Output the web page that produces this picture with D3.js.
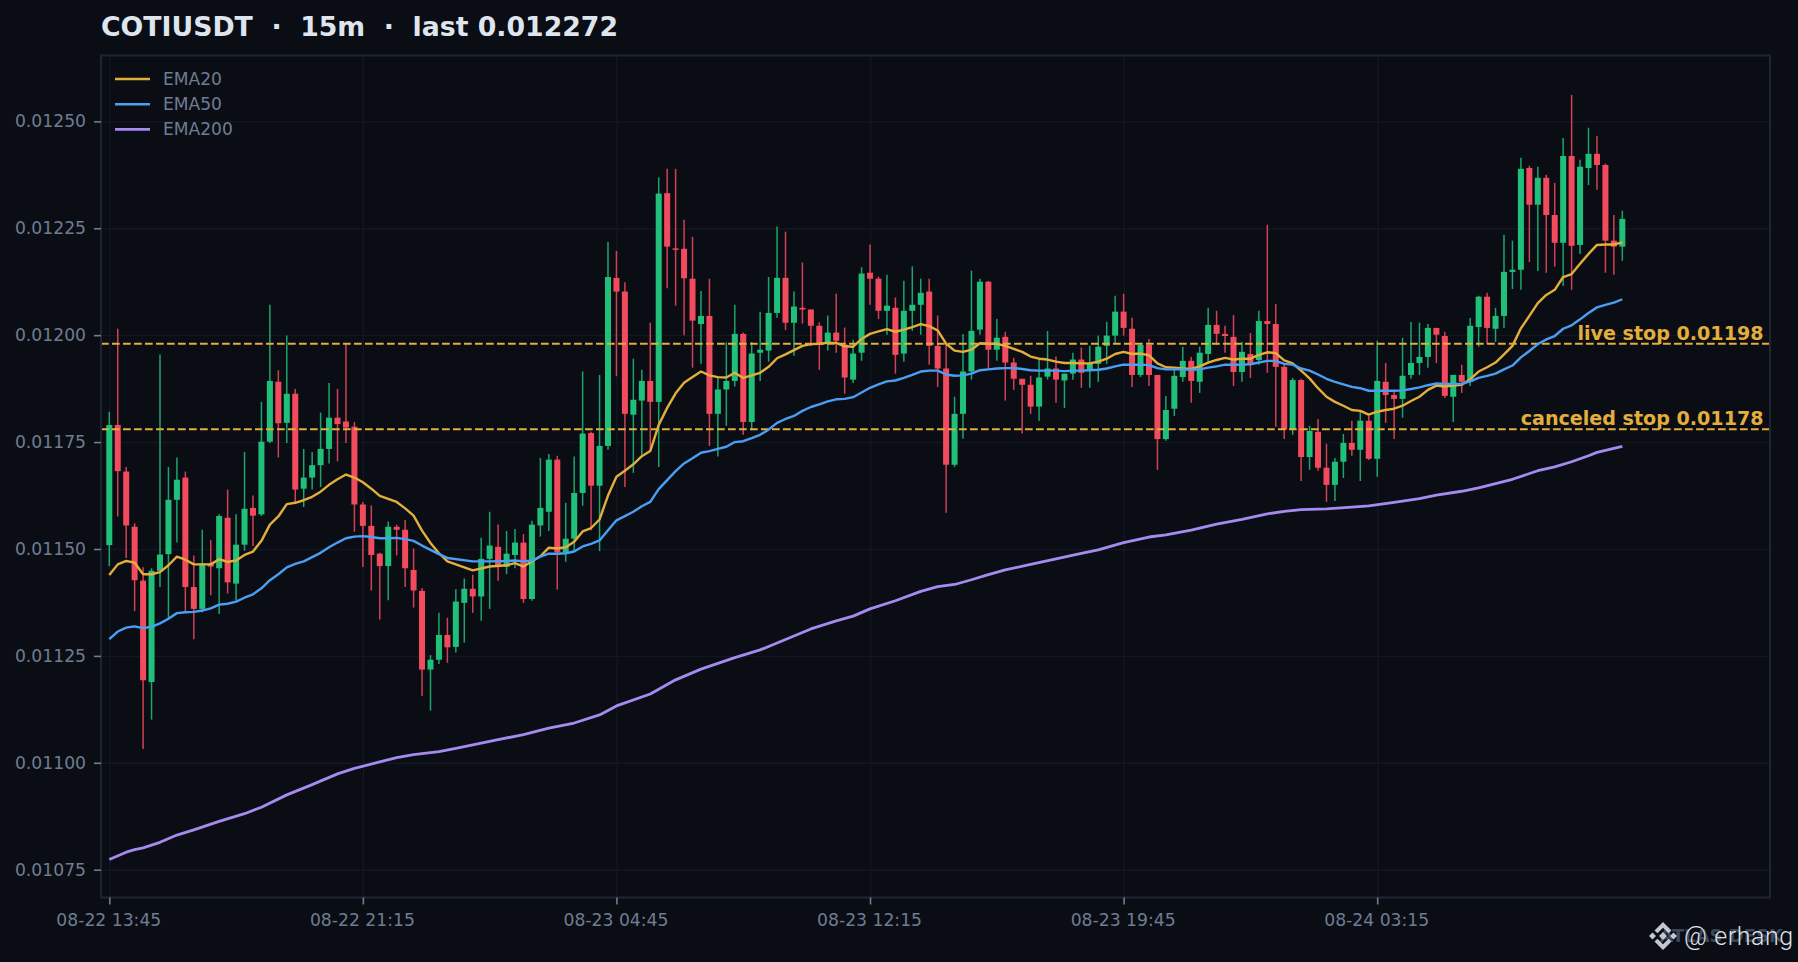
<!DOCTYPE html>
<html>
<head>
<meta charset="utf-8">
<script src="https://cdn.jsdelivr.net/npm/d3@7"></script>
<style>
html, body { margin: 0; padding: 0; background: #0a0d14; overflow: hidden; }
svg { display: block; font-family: "DejaVu Sans", sans-serif; }
</style>
</head>
<body>
<div id="chart"></div>
<script>
// candles, 15m bars
const opens = [
0.011509,0.011790,0.011681,0.011552,0.011426,0.011189,0.011449,0.011488,0.011615,0.011667,
0.011411,0.011360,0.011466,0.011455,0.011573,0.011419,0.011510,0.011596,0.011581,0.011751,
0.011891,0.011795,0.011863,0.011641,0.011667,0.011696,0.011734,0.011807,0.011798,0.011786,
0.011604,0.011554,0.011489,0.011460,0.011552,0.011545,0.011451,0.011402,0.011218,0.011241,
0.011299,0.011271,0.011374,0.011407,0.011389,0.011477,0.011505,0.011458,0.011486,0.011515,
0.011383,0.011555,0.011587,0.011709,0.011492,0.011524,0.011631,0.011771,0.011648,0.011741,
0.012134,0.012102,0.011814,0.011847,0.011893,0.011844,0.012332,0.012203,0.012202,0.012132,
0.012026,0.012045,0.011816,0.011873,0.011893,0.012003,0.011797,0.011959,0.011964,0.012052,
0.012134,0.012029,0.012064,0.012060,0.012022,0.011980,0.012006,0.011978,0.011896,0.011959,
0.012146,0.012132,0.012057,0.012064,0.011957,0.012057,0.012071,0.012102,0.011975,0.011922,
0.011697,0.011816,0.011915,0.012013,0.012125,0.011966,0.011996,0.011936,0.011898,0.011884,
0.011833,0.011903,0.011922,0.011894,0.011910,0.011943,0.011918,0.011933,0.011975,0.011999,
0.012055,0.012015,0.011907,0.011977,0.011907,0.011757,0.011828,0.011902,0.011940,0.011891,
0.011956,0.012024,0.012003,0.011996,0.011914,0.011956,0.011942,0.012033,0.012026,0.011926,
0.011779,0.011895,0.011715,0.011774,0.011690,0.011650,0.011704,0.011748,0.011732,0.011800,
0.011711,0.011891,0.011860,0.011851,0.011907,0.011935,0.011949,0.012017,0.011998,0.011856,
0.011907,0.011891,0.012019,0.012090,0.012015,0.012045,0.012148,0.012153,0.012391,0.012305,
0.012368,0.012281,0.012216,0.012419,0.012211,0.012391,0.012424,0.012398,0.012221,0.012207
];
const highs = [
0.011821,0.012015,0.011692,0.011560,0.011457,0.011455,0.011955,0.011692,0.011714,0.011681,
0.011485,0.011545,0.011521,0.011581,0.011639,0.011581,0.011727,0.011625,0.011844,0.012071,
0.011918,0.011999,0.011874,0.011734,0.011727,0.011819,0.011888,0.011874,0.011981,0.011797,
0.011610,0.011602,0.011491,0.011564,0.011557,0.011568,0.011501,0.011409,0.011252,0.011351,
0.011339,0.011406,0.011431,0.011440,0.011526,0.011587,0.011557,0.011542,0.011547,0.011535,
0.011566,0.011713,0.011722,0.011718,0.011608,0.011716,0.011915,0.011774,0.011907,0.012218,
0.012197,0.012124,0.011945,0.011919,0.012029,0.012369,0.012389,0.012389,0.012270,0.012230,
0.012103,0.012132,0.011902,0.011983,0.012071,0.012006,0.011984,0.012055,0.012136,0.012254,
0.012242,0.012102,0.012170,0.012060,0.012030,0.012046,0.012097,0.012018,0.011989,0.012159,
0.012212,0.012137,0.012141,0.012088,0.012127,0.012161,0.012132,0.012132,0.012046,0.011978,
0.011856,0.012003,0.012151,0.012132,0.012127,0.012038,0.012008,0.011947,0.011898,0.011905,
0.011944,0.012010,0.011950,0.011910,0.011959,0.011971,0.011975,0.011999,0.012031,0.012092,
0.012097,0.012041,0.011981,0.011991,0.011907,0.011858,0.011919,0.011973,0.011949,0.011973,
0.012064,0.012057,0.012022,0.012047,0.011984,0.012005,0.012057,0.012258,0.012073,0.011931,
0.011900,0.011898,0.011788,0.011804,0.011746,0.011713,0.011769,0.011800,0.011821,0.011811,
0.011987,0.011935,0.011870,0.011994,0.012031,0.012029,0.012026,0.012017,0.012008,0.011907,
0.011931,0.012040,0.012092,0.012099,0.012064,0.012235,0.012221,0.012415,0.012396,0.012394,
0.012375,0.012356,0.012461,0.012562,0.012410,0.012485,0.012466,0.012401,0.012281,0.012291
];
const lows = [
0.011460,0.011576,0.011479,0.011355,0.011032,0.011101,0.011411,0.011339,0.011515,0.011353,
0.011289,0.011352,0.011392,0.011348,0.011396,0.011380,0.011496,0.011507,0.011577,0.011748,
0.011714,0.011748,0.011609,0.011598,0.011639,0.011645,0.011700,0.011705,0.011748,0.011540,
0.011458,0.011403,0.011335,0.011380,0.011485,0.011411,0.011363,0.011156,0.011122,0.011231,
0.011234,0.011258,0.011281,0.011351,0.011332,0.011360,0.011426,0.011441,0.011455,0.011374,
0.011379,0.011529,0.011542,0.011405,0.011470,0.011495,0.011601,0.011544,0.011495,0.011732,
0.011904,0.011645,0.011678,0.011720,0.011732,0.011692,0.012110,0.012069,0.012000,0.011924,
0.011933,0.011741,0.011716,0.011788,0.011880,0.011767,0.011777,0.011893,0.011938,0.012041,
0.012012,0.011952,0.012027,0.011974,0.011919,0.011964,0.011959,0.011863,0.011888,0.011940,
0.012071,0.012038,0.012001,0.011910,0.011938,0.012010,0.012001,0.011931,0.011879,0.011585,
0.011692,0.011758,0.011896,0.012001,0.011922,0.011940,0.011847,0.011872,0.011770,0.011816,
0.011800,0.011896,0.011842,0.011830,0.011896,0.011877,0.011877,0.011891,0.011933,0.011982,
0.011999,0.011879,0.011902,0.011881,0.011685,0.011753,0.011811,0.011891,0.011842,0.011865,
0.011938,0.011977,0.011959,0.011881,0.011891,0.011900,0.011931,0.011912,0.011786,0.011757,
0.011767,0.011659,0.011685,0.011683,0.011610,0.011612,0.011666,0.011718,0.011659,0.011708,
0.011669,0.011795,0.011757,0.011807,0.011898,0.011907,0.011924,0.011935,0.011853,0.011797,
0.011865,0.011881,0.011973,0.011980,0.011984,0.012017,0.012108,0.012106,0.012171,0.012150,
0.012146,0.012160,0.012115,0.012106,0.012190,0.012351,0.012340,0.012146,0.012141,0.012174
];
const closes = [
0.011790,0.011682,0.011555,0.011427,0.011193,0.011449,0.011487,0.011615,0.011662,0.011411,
0.011360,0.011466,0.011459,0.011577,0.011422,0.011510,0.011594,0.011578,0.011751,0.011893,
0.011794,0.011863,0.011639,0.011667,0.011696,0.011734,0.011807,0.011792,0.011784,0.011604,
0.011554,0.011486,0.011460,0.011552,0.011545,0.011455,0.011403,0.011218,0.011241,0.011299,
0.011270,0.011377,0.011407,0.011389,0.011477,0.011508,0.011458,0.011489,0.011515,0.011383,
0.011557,0.011596,0.011709,0.011492,0.011524,0.011631,0.011770,0.011648,0.011741,0.012136,
0.012102,0.011816,0.011849,0.011893,0.011844,0.012331,0.012207,0.012202,0.012133,0.012034,
0.012045,0.011816,0.011873,0.011893,0.012003,0.011797,0.011957,0.011966,0.012052,0.012134,
0.012029,0.012067,0.012060,0.012022,0.011982,0.012006,0.011987,0.011901,0.011957,0.012144,
0.012132,0.012057,0.012069,0.011954,0.012057,0.012071,0.012099,0.011975,0.011922,0.011697,
0.011816,0.011915,0.012010,0.012125,0.011966,0.011994,0.011936,0.011898,0.011884,0.011833,
0.011901,0.011922,0.011896,0.011910,0.011943,0.011912,0.011933,0.011973,0.011999,0.012055,
0.012017,0.011907,0.011977,0.011907,0.011757,0.011825,0.011905,0.011940,0.011893,0.011959,
0.012024,0.012003,0.011998,0.011914,0.011961,0.011931,0.012033,0.012026,0.011926,0.011779,
0.011895,0.011715,0.011776,0.011690,0.011650,0.011704,0.011748,0.011732,0.011800,0.011711,
0.011893,0.011860,0.011851,0.011905,0.011935,0.011949,0.012017,0.012001,0.011858,0.011907,
0.011891,0.012022,0.012090,0.012017,0.012045,0.012148,0.012153,0.012389,0.012305,0.012368,
0.012281,0.012216,0.012419,0.012209,0.012394,0.012424,0.012398,0.012221,0.012207,0.012272
];

// ema lines : bar index + value, read at the visible bends
const ema20Idx = [0,1,2,3,4,5,6,7,8,9,10,11,12,13,14,15,16,17,18,19,20,21,22,23,24,25,26,27,28,29,30,31,32,33,34,35,36,37,38,39,40,
43,45,47,48,49,51,52,53,54,55,56,57,58,59,60,61,62,63,64,65,66,67,68,69,70,71,72,73,74,75,76,77,78,79,80,81,82,83,84,85,86,87,88,89,
90,91,92,93,94,95,96,97,98,99,100,101,102,103,104,105,106,107,108,109,110,111,112,113,114,115,116,117,118,119,120,121,122,123,124,125,
126,127,128,129,130,131,132,133,134,135,136,137,138,139,140,141,142,143,144,145,146,147,148,149,150,151,152,153,154,155,156,157,158,159,
160,161,162,163,164,165,166,167,168,169,170,171,172,173,174,175,176,177,178,179];
const ema20 = [0.011439,0.011464,0.011472,0.011468,0.011441,0.011441,0.011446,0.011462,0.011482,0.011475,0.011464,0.011464,0.011464,0.011476,0.011470,0.011473,0.011486,0.011494,0.011519,0.011557,0.011576,0.011605,0.011608,0.011614,0.011622,0.011634,0.011650,0.011663,0.011674,0.011667,0.011656,0.011641,0.011624,0.011617,0.011610,0.011595,0.011578,0.011543,0.011514,0.011490,0.011471,
0.011450,0.011459,0.011462,0.011467,0.011459,0.011483,0.011503,0.011501,0.011504,0.011517,0.011541,0.011549,0.011569,0.011625,0.011669,0.011683,0.011698,0.011717,0.011729,0.011790,0.011830,0.011864,0.011889,0.011902,0.011915,0.011906,0.011902,0.011901,0.011912,0.011900,0.011906,0.011912,0.011926,0.011946,0.011955,0.011965,0.011975,0.011979,0.011980,0.011982,0.011982,0.011974,0.011973,0.011991,
0.012003,0.012009,0.012014,0.012008,0.012013,0.012019,0.012026,0.012021,0.012011,0.011980,0.011964,0.011961,0.011966,0.011981,0.011980,0.011980,0.011975,0.011968,0.011961,0.011950,0.011945,0.011943,0.011938,0.011935,0.011935,0.011934,0.011934,0.011938,0.011945,0.011956,0.011961,0.011956,0.011957,0.011953,0.011934,0.011925,
0.011924,0.011922,0.011921,0.011927,0.011936,0.011942,0.011947,0.011943,0.011945,0.011945,0.011954,0.011960,0.011958,0.011941,0.011934,0.011917,0.011899,0.011876,0.011856,0.011844,0.011835,0.011825,0.011823,0.011814,0.011821,0.011825,0.011828,0.011835,0.011846,0.011856,0.011872,0.011882,0.011880,0.011882,
0.011884,0.011897,0.011915,0.011925,0.011936,0.011955,0.011975,0.012016,0.012045,0.012075,0.012094,0.012106,0.012136,0.012143,0.012167,0.012190,0.012211,0.012212,0.012212,0.012217];

const ema50Idx = [0,1,2,3,4,5,6,7,8,9,10,11,12,13,14,15,16,17,18,19,20,21,22,23,24,25,26,27,28,29,30,31,32,33,34,35,36,37,38,39,40,
43,45,47,48,49,50,51,52,53,54,55,56,57,58,59,60,61,62,63,64,65,66,67,68,69,70,71,72,73,74,75,76,77,78,79,80,81,82,83,84,85,86,87,88,89,
90,91,92,93,94,95,96,97,98,99,100,101,102,103,104,105,106,107,108,109,110,111,112,113,114,115,116,117,118,119,120,121,122,123,124,125,
126,127,128,129,130,131,132,133,134,135,136,137,138,139,140,141,142,143,144,145,146,147,148,149,150,151,152,153,154,155,156,157,158,159,
160,161,162,163,164,165,166,167,168,169,170,171,172,173,174,175,176,177,178,179];
const ema50 = [0.011289,0.011307,0.011316,0.011319,0.011315,0.011318,0.011326,0.011337,0.011350,0.011352,0.011353,0.011356,0.011361,0.011370,0.011372,0.011377,0.011386,0.011394,0.011408,0.011427,0.011441,0.011457,0.011465,0.011471,0.011481,0.011491,0.011504,0.011515,0.011525,0.011529,0.011530,0.011528,0.011525,0.011525,0.011526,0.011523,0.011519,0.011508,0.011498,0.011488,0.011479,
0.011471,0.011471,0.011472,0.011473,0.011471,0.011473,0.011482,0.011489,0.011489,0.011490,0.011494,0.011506,0.011512,0.011520,0.011544,0.011567,0.011577,0.011587,0.011600,0.011610,0.011640,0.011661,0.011682,0.011700,0.011712,0.011725,0.011729,0.011734,0.011739,0.011750,0.011752,0.011759,0.011767,0.011779,0.011795,0.011804,0.011811,0.011823,0.011832,0.011838,0.011845,0.011850,0.011851,0.011855,0.011866,
0.011877,0.011885,0.011892,0.011894,0.011900,0.011907,0.011915,0.011917,0.011917,0.011908,0.011905,0.011906,0.011910,0.011918,0.011920,0.011922,0.011923,0.011923,0.011921,0.011918,0.011917,0.011917,0.011917,0.011916,0.011917,0.011917,0.011918,0.011919,0.011922,0.011927,0.011931,0.011931,0.011931,0.011930,0.011923,0.011920,
0.011920,0.011920,0.011919,0.011920,0.011924,0.011927,0.011931,0.011931,0.011931,0.011932,0.011936,0.011940,0.011940,0.011933,0.011931,0.011922,0.011917,0.011908,0.011898,0.011891,0.011885,0.011879,0.011876,0.011870,0.011870,0.011870,0.011870,0.011871,0.011874,0.011878,0.011883,0.011887,0.011886,0.011886,
0.011886,0.011892,0.011900,0.011905,0.011910,0.011920,0.011929,0.011948,0.011963,0.011979,0.011990,0.011998,0.012015,0.012023,0.012037,0.012052,0.012065,0.012071,0.012076,0.012084];

const ema200Idx = [0,2,3,4,6,8,10,13,16,18,21,24,27,29,32,34,36,39,41,46,49,52,55,58,60,64,67,70,74,77,79,83,86,88,90,93,96,98,100,102,104,106,109,112,115,117,120,123,125,128,131,134,137,139,141,144,147,149,152,155,157,160,162,166,169,171,173,175,176,179];
const ema200 = [0.010774,0.010791,0.010797,0.010801,0.010814,0.010831,0.010843,0.010863,0.010881,0.010896,0.010925,0.010949,0.010974,0.010987,0.011002,0.011012,0.011019,0.011026,0.011034,0.011054,0.011066,0.011081,0.011093,0.011112,0.011133,0.011161,0.011194,0.011219,0.011246,0.011264,0.011280,0.011313,0.011332,0.011343,0.011360,0.011379,0.011401,0.011412,0.011417,0.011428,0.011440,0.011451,0.011464,0.011477,0.011490,0.011498,0.011515,0.011528,0.011533,0.011544,0.011558,0.011569,0.011582,0.011588,0.011592,0.011594,0.011598,0.011601,0.011609,0.011618,0.011626,0.011635,0.011643,0.011663,0.011683,0.011692,0.011704,0.011718,0.011726,0.011740];

const stopValues = [0.01198, 0.01178];
const stopLabels = ["live stop 0.01198", "canceled stop 0.01178"];

const yTicks = [0.01075, 0.01100, 0.01125, 0.01150, 0.01175, 0.01200, 0.01225, 0.01250];
const xTicks = [0, 30, 60, 90, 120, 150];
const xTickLabels = ["08-22 13:45", "08-22 21:15", "08-23 04:45", "08-23 12:15", "08-23 19:45", "08-24 03:15"];

const emaNames = ["EMA20", "EMA50", "EMA200"];
const emaColors = ["#e3ae3b", "#4a9ff5", "#a58bf0"];

const width = 1798, height = 962;
const margin = { top: 55.5, right: 28, bottom: 64.5, left: 101 };
const up = "#20c07a", down = "#f34b5e", amber = "#e3ae3b";
const tickColor = "#6f7d92";

const svg = d3.select("#chart").append("svg")
    .attr("width", width)
    .attr("height", height);

svg.append("rect").attr("width", width).attr("height", height).attr("fill", "#0a0d14");

const x = d3.scaleLinear()
    .domain([-0.98, 196.47])
    .range([margin.left, width - margin.right]);
const y = d3.scaleLinear()
    .domain([0.010685, 0.012654])
    .range([height - margin.bottom, margin.top]);

// grid
const gridX = svg.append("g")
    .attr("transform", "translate(0," + (height - margin.bottom) + ")")
    .call(d3.axisBottom(x).tickValues(xTicks).tickSize(-(height - margin.top - margin.bottom)).tickFormat(""));
const gridY = svg.append("g")
    .attr("transform", "translate(" + margin.left + ",0)")
    .call(d3.axisLeft(y).tickValues(yTicks).tickSize(-(width - margin.left - margin.right)).tickFormat(""));
[gridX, gridY].forEach(function (g) {
    g.select(".domain").remove();
    g.selectAll("line").attr("stroke", "#131720").attr("stroke-width", 1.4);
});

// candles
const candles = d3.range(opens.length).map(function (i) {
    return { i: i, open: opens[i], high: highs[i], low: lows[i], close: closes[i] };
});
const candle = svg.append("g").selectAll("g")
    .data(candles)
    .join("g")
    .attr("fill", d => d.close >= d.open ? up : down)
    .attr("stroke", d => d.close >= d.open ? up : down);
candle.append("line")
    .attr("x1", d => x(d.i))
    .attr("x2", d => x(d.i))
    .attr("y1", d => y(d.high))
    .attr("y2", d => y(d.low))
    .attr("stroke-width", 1.5)
    .attr("stroke-opacity", 0.85);
candle.append("rect")
    .attr("x", d => x(d.i) - 3)
    .attr("width", 6)
    .attr("y", d => y(Math.max(d.open, d.close)))
    .attr("height", d => Math.max(1.5, Math.abs(y(d.open) - y(d.close))))
    .attr("stroke", "none");

// stop lines
svg.append("g").selectAll("line")
    .data(stopValues)
    .join("line")
    .attr("x1", margin.left)
    .attr("x2", width - margin.right)
    .attr("y1", d => y(d))
    .attr("y2", d => y(d))
    .attr("stroke", amber)
    .attr("stroke-width", 2.1)
    .attr("stroke-dasharray", "7.7,3.3");

// ema
const line = d3.line().x(d => x(d[0])).y(d => y(d[1])).curve(d3.curveLinear);
[[ema20Idx, ema20], [ema50Idx, ema50], [ema200Idx, ema200]].forEach(function (s, k) {
    svg.append("path")
        .datum(s[0].map((idx, j) => [idx, s[1][j]]))
        .attr("d", line)
        .attr("fill", "none")
        .attr("stroke", emaColors[k])
        .attr("stroke-width", k == 2 ? 2.8 : 2.4)
        .attr("stroke-linejoin", "round");
});

// stop labels
svg.append("g").selectAll("text")
    .data(stopLabels)
    .join("text")
    .attr("x", 1763.5)
    .attr("y", (d, i) => y(stopValues[i]) - 3.8)
    .attr("text-anchor", "end")
    .attr("fill", amber)
    .attr("font-size", 19.1)
    .attr("font-weight", "bold")
    .text(d => d);

// frame
svg.append("rect")
    .attr("x", margin.left)
    .attr("y", margin.top)
    .attr("width", width - margin.left - margin.right)
    .attr("height", height - margin.top - margin.bottom)
    .attr("fill", "none")
    .attr("stroke", "#1e2633")
    .attr("stroke-width", 2);

// axes
const xAxis = svg.append("g")
    .attr("transform", "translate(0," + (height - margin.bottom) + ")")
    .call(d3.axisBottom(x).tickValues(xTicks).tickSize(7).tickPadding(9).tickFormat((d, i) => xTickLabels[i]));
const yAxis = svg.append("g")
    .attr("transform", "translate(" + margin.left + ",0)")
    .call(d3.axisLeft(y).tickValues(yTicks).tickSize(7).tickPadding(8).tickFormat(d3.format(".5f")));
[xAxis, yAxis].forEach(function (g) {
    g.select(".domain").remove();
    g.selectAll("line").attr("stroke", tickColor).attr("stroke-width", 1.6);
    g.selectAll("text").attr("fill", tickColor).attr("font-size", 17.2).attr("font-family", "DejaVu Sans");
});
xAxis.selectAll("text").attr("dx", -1);

// legend
const legend = svg.append("g").selectAll("g")
    .data(emaNames)
    .join("g")
    .attr("transform", (d, i) => "translate(115," + (79 + i * 25.2) + ")");
legend.append("line")
    .attr("x2", 35)
    .attr("stroke", (d, i) => emaColors[i])
    .attr("stroke-width", (d, i) => i == 2 ? 2.8 : 2.4);
legend.append("text")
    .attr("x", 48)
    .attr("y", 6)
    .attr("fill", tickColor)
    .attr("font-size", 17.1)
    .text(d => d);

// title
svg.append("text")
    .attr("x", 101)
    .attr("y", 35.5)
    .attr("fill", "#dfe5ee")
    .attr("font-size", 26.72)
    .attr("font-weight", "bold")
    .attr("xml:space", "preserve")
    .style("white-space", "pre")
    .text("COTIUSDT  ·  15m  ·  last 0.012272");

// watermark
const mark = svg.append("g");
mark.append("text")
    .attr("x", 1783)
    .attr("y", 942)
    .attr("text-anchor", "end")
    .attr("fill", "#3d4658")
    .attr("font-size", 18)
    .attr("font-weight", "bold")
    .text("ATLAS DESK");
const logo = mark.append("g")
    .attr("transform", "translate(1663,936)")
    .attr("fill", "#c3c8d0");
logo.append("path").attr("d", "M0,-4L4,0L0,4L-4,0Z");
logo.append("path").attr("d", "M0,-14L8.5,-5.5L5.5,-2.8L0,-8.3L-5.5,-2.8L-8.5,-5.5Z");
logo.append("path").attr("d", "M0,14L8.5,5.5L5.5,2.8L0,8.3L-5.5,2.8L-8.5,5.5Z");
logo.append("path").attr("d", "M-14,0L-10.5,-3.5L-7,0L-10.5,3.5Z");
logo.append("path").attr("d", "M14,0L10.5,-3.5L7,0L10.5,3.5Z");
mark.append("text")
    .attr("x", 1684)
    .attr("y", 945)
    .attr("fill", "#dde1e6")
    .attr("font-size", 25)
    .attr("font-family", "Roboto")
    .attr("font-weight", 300)
    .attr("letter-spacing", 0.6)
    .text("@ erhang");
</script>
</body>
</html>
